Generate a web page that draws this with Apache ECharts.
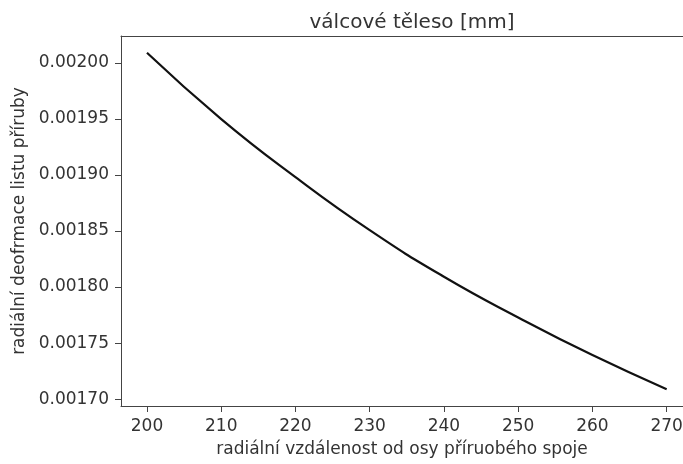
<!DOCTYPE html>
<html>
<head>
<meta charset="utf-8">
<script src="https://cdn.jsdelivr.net/npm/echarts@6/dist/echarts.min.js"></script>
<style>
  html, body { margin: 0; padding: 0; background: #fff; }
  #chart { width: 683px; height: 464px; }
</style>
</head>
<body>
<div id="chart"></div>
<script>
// vzdálenost od osy [mm]
const xValues = [200, 210, 220, 230, 240, 250, 260, 270];
// radiální deformace
const yValues = [0.0020089, 0.0019498, 0.0018980, 0.0018507, 0.0018092, 0.0017729, 0.0017393, 0.0017089];

const xTicks = [200, 210, 220, 230, 240, 250, 260, 270];
const yTicks = [0.00170, 0.00175, 0.00180, 0.00185, 0.00190, 0.00195, 0.00200];

const chart = echarts.init(document.getElementById('chart'));

const textColor = '#333';
const axisColor = '#444';
const font = 'DejaVu Sans';

chart.setOption({
  animation: false,
  // titulek
  title: {
    text: 'válcové těleso [mm]',
    left: 407,
    top: 8,
    textAlign: 'center',
    textStyle: {
      fontFamily: font,
      fontSize: 20,
      fontWeight: 'normal',
      color: textColor
    }
  },
  grid: {
    left: 121,
    top: 36,
    right: 0,
    bottom: 58,
    outerBoundsMode: 'none'
  },
  xAxis: [
    {
      type: 'value',
      min: 196.5,
      max: 272.2,
      name: 'radiální vzdálenost od osy příruobého spoje',
      nameLocation: 'middle',
      nameGap: 35,
      nameTextStyle: {fontFamily: font, fontSize: 17, color: textColor},
      axisLine: {show: true, lineStyle: {color: axisColor}},
      axisTick: {show: true, length: 6, customValues: xTicks, lineStyle: {color: axisColor}},
      axisLabel: {
        customValues: xTicks,
        margin: 12,
        fontFamily: font,
        fontSize: 17,
        color: textColor
      },
      splitLine: {show: false}
    },
    {
      // horní okraj rámu
      type: 'value',
      position: 'top',
      min: 196.5,
      max: 272.2,
      axisLine: {show: true, onZero: false, lineStyle: {color: axisColor}},
      axisTick: {show: false},
      axisLabel: {show: false},
      splitLine: {show: false}
    }
  ],
  yAxis: {
    type: 'value',
    min: 0.0016939,
    max: 0.0020239,
    name: 'radiální deofrmace listu příruby',
    nameLocation: 'middle',
    nameGap: 92,
    nameTextStyle: {fontFamily: font, fontSize: 17, color: textColor},
    axisLine: {show: true, onZero: false, lineStyle: {color: axisColor}},
    axisTick: {show: true, length: 6, customValues: yTicks, lineStyle: {color: axisColor}},
    axisLabel: {
      customValues: yTicks,
      margin: 12,
      fontFamily: font,
      fontSize: 17,
      color: textColor,
      formatter: v => v.toFixed(5)
    },
    splitLine: {show: false}
  },
  series: [
    {
      type: 'line',
      data: xValues.map((x, i) => [x, yValues[i]]),
      smooth: 0.5,
      showSymbol: false,
      lineStyle: {color: '#111', width: 2.2}
    }
  ]
});
</script>
</body>
</html>
